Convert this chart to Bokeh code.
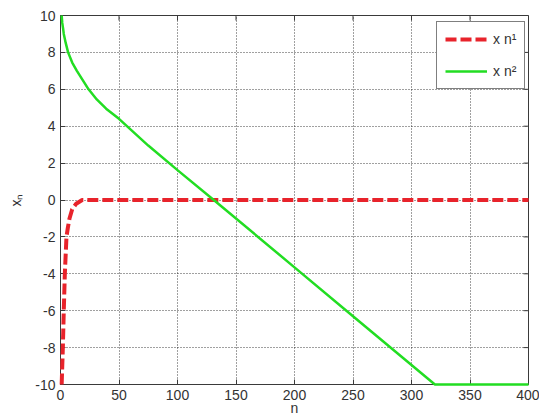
from bokeh.plotting import figure
from bokeh.models import FixedTicker, Range1d, Legend, LegendItem
from bokeh.embed import file_html
from bokeh.resources import INLINE

# data
n1 = [1, 2, 2.8, 3.7, 5.1, 6.3, 7.7, 10, 13.4, 18.5, 400]
x1 = [-10, -8, -6, -4, -2, -1.5, -1, -0.5, -0.2, 0, 0]

n2 = [1, 1.5, 2.2, 2.8, 4.5, 6.5, 10, 14, 19, 24, 31, 39, 50, 75, 100, 131, 200, 250, 320, 400]
x2 = [10, 9.6, 9.3, 9, 8.5, 8, 7.45, 7, 6.5, 6, 5.45, 4.95, 4.4, 2.95, 1.62, 0, -3.65, -6.3, -10, -10]

x_ticks = [0, 50, 100, 150, 200, 250, 300, 350, 400]
y_ticks = [-10, -8, -6, -4, -2, 0, 2, 4, 6, 8, 10]
labels = ["x n\u00b9", "x n\u00b2"]

FONT = "Liberation Sans"
AX = "#3a3a3a"
TXT = "#333333"
X0, X1, Y0, Y1 = 0, 400, -10, 10
FW, FH = 468, 369
TICK = 5

p = figure(width=539, height=420, output_backend="svg", toolbar_location=None,
           x_range=Range1d(X0, X1), y_range=Range1d(Y0, Y1),
           min_border_left=60, min_border_right=11, min_border_top=15, min_border_bottom=36)
p.background_fill_color = "white"
p.border_fill_color = "white"
p.outline_line_color = AX

xa = p.below[0]
ya = p.left[0]
xa.axis_label = "n"
ya.axis_label = "x\u2099"
for ax, ticks in ((xa, x_ticks), (ya, y_ticks)):
    ax.ticker = FixedTicker(ticks=ticks)
    ax.major_label_overrides = {t: str(t) for t in ticks}
    ax.major_tick_in = TICK
    ax.major_tick_out = 0
    ax.minor_tick_line_color = None
    ax.axis_line_color = AX
    ax.major_tick_line_color = AX
    ax.major_label_text_font = FONT
    ax.major_label_text_font_size = "14px"
    ax.major_label_text_color = TXT
    ax.axis_label_text_font = FONT
    ax.axis_label_text_font_size = "14px"
    ax.axis_label_text_font_style = "normal"
    ax.axis_label_text_color = TXT

xa.major_label_standoff = 5
xa.axis_label_standoff = -3
ya.major_label_standoff = 5
ya.axis_label_standoff = 8

p.xgrid.ticker = FixedTicker(ticks=x_ticks)
p.ygrid.ticker = FixedTicker(ticks=y_ticks)
for g in (p.xgrid, p.ygrid):
    g.grid_line_color = "black"
    g.grid_line_alpha = 0.75
    g.grid_line_dash = "1 2"
    g.grid_line_width = 1

# inward ticks on the top and right edges (box on)
dy = (Y1 - Y0) * TICK / FH
dx = (X1 - X0) * TICK / FW
p.segment(x0=x_ticks, y0=[Y1] * len(x_ticks), x1=x_ticks, y1=[Y1 - dy] * len(x_ticks),
          line_color=AX, line_width=1)
p.segment(x0=[X1] * len(y_ticks), y0=y_ticks, x1=[X1 - dx] * len(y_ticks), y1=y_ticks,
          line_color=AX, line_width=1)

r1 = p.line(n1, x1, line_color="#e8232b", line_width=4, line_dash="11 4", level="overlay")
r2 = p.line(n2, x2, line_color="#22dd22", line_width=2.5, level="overlay")

legend = Legend(items=[LegendItem(label=labels[0], renderers=[r1]),
                       LegendItem(label=labels[1], renderers=[r2])],
                location=(376, 295))
legend.label_text_font = FONT
legend.label_text_font_size = "14px"
legend.label_text_color = TXT
legend.border_line_color = "black"
legend.border_line_width = 1
legend.background_fill_color = "white"
legend.background_fill_alpha = 1
legend.padding = 8
legend.margin = 0
legend.glyph_width = 42
legend.glyph_height = 18
legend.spacing = 14
legend.label_standoff = 6
legend.label_height = 18
legend.level = "overlay"
p.add_layout(legend, "center")

open("out.html", "w").write(file_html(p, INLINE))
